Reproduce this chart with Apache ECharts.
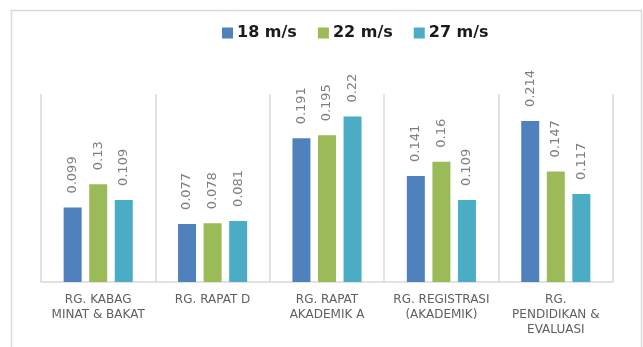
<!DOCTYPE html>
<html>
<head>
<meta charset="utf-8">
<script src="https://cdn.jsdelivr.net/npm/echarts@6/dist/echarts.min.js"></script>
<style>
  html, body { margin: 0; padding: 0; background: #ffffff; }
  #chart { width: 643px; height: 347px; }
</style>
</head>
<body>
<div id="chart"></div>
<script>
// Rooms measured and the value recorded at each wind speed
const categories = [
  'RG. KABAG\nMINAT & BAKAT',
  'RG. RAPAT D',
  'RG. RAPAT\nAKADEMIK A',
  'RG. REGISTRASI\n(AKADEMIK)',
  'RG.\nPENDIDIKAN &\nEVALUASI'
];
const seriesNames = ['18 m/s', '22 m/s', '27 m/s'];
const speed18 = [0.099, 0.077, 0.191, 0.141, 0.214];
const speed22 = [0.13, 0.078, 0.195, 0.16, 0.147];
const speed27 = [0.109, 0.081, 0.22, 0.109, 0.117];
const palette = ['#4f81bd', '#9bbb59', '#4bacc6'];

const chart = echarts.init(document.getElementById('chart'), null, { renderer: 'canvas' });

function barSeries(name, values, color) {
  return {
    name: name,
    type: 'bar',
    data: values,
    barWidth: 18,
    barGap: '42%',
    itemStyle: { color: color },
    label: {
      show: true,
      position: 'top',
      rotate: 90,
      align: 'left',
      verticalAlign: 'middle',
      distance: 14,
      color: '#7f7f7f',
      fontFamily: 'DejaVu Sans',
      fontSize: 13,
      formatter: p => String(p.value)
    },
    emphasis: { disabled: true }
  };
}

chart.setOption({
  animation: false,
  backgroundColor: '#ffffff',
  graphic: [{
    type: 'rect',
    silent: true,
    shape: { x: 11.5, y: 10.5, width: 630, height: 400 },
    style: { fill: 'none', stroke: '#d9d9d9', lineWidth: 1.5 }
  }],
  legend: {
    top: 20,
    left: 217,
    itemWidth: 11,
    itemHeight: 11,
    itemGap: 21,
    icon: 'rect',
    textStyle: {
      color: '#1a1a1a',
      fontFamily: 'DejaVu Sans',
      fontWeight: 'bold',
      fontSize: 16,
      padding: [0, 0, 0, -1]
    },
    data: seriesNames
  },
  grid: { left: 41, right: 30, top: 94, bottom: 65, containLabel: false },
  xAxis: {
    type: 'category',
    data: categories,
    axisTick: { show: false },
    axisLine: { show: true, lineStyle: { color: '#d9d9d9', width: 1.5 } },
    splitLine: { show: true, interval: 0, lineStyle: { color: '#d9d9d9', width: 1.5 } },
    axisLabel: {
      interval: 0,
      margin: 10,
      color: '#5f5f5f',
      fontFamily: 'DejaVu Sans',
      fontSize: 12,
      lineHeight: 15,
      align: 'center'
    }
  },
  yAxis: {
    type: 'value',
    min: 0,
    max: 0.25,
    show: false,
    splitLine: { show: false }
  },
  series: [
    barSeries(seriesNames[0], speed18, palette[0]),
    barSeries(seriesNames[1], speed22, palette[1]),
    barSeries(seriesNames[2], speed27, palette[2])
  ]
});
</script>
</body>
</html>
